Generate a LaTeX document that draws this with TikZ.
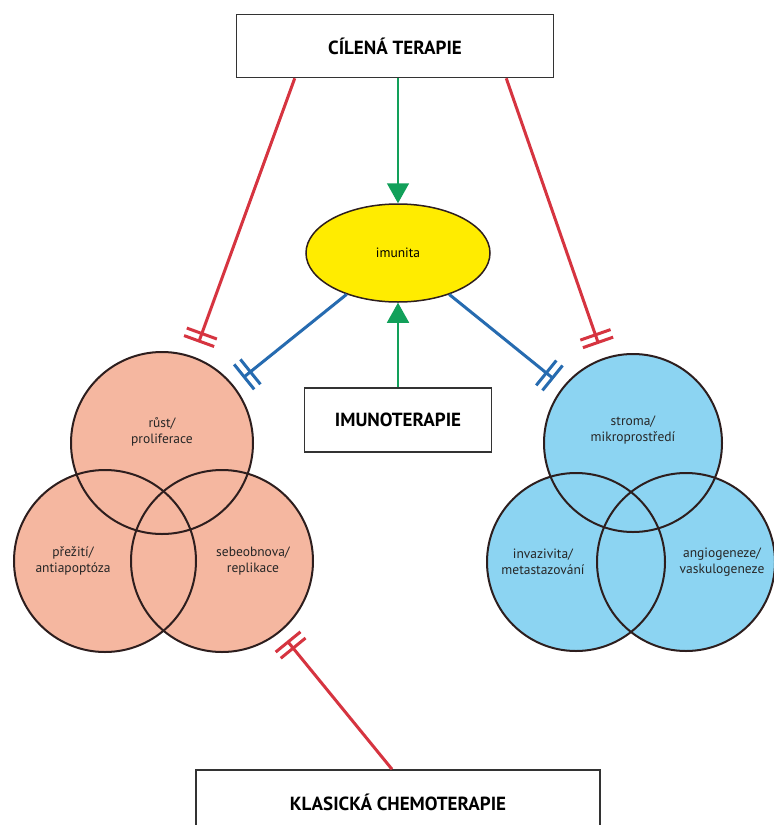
\documentclass[tikz,border=0pt]{standalone}
\usepackage{fontspec}
\setmainfont{PT Sans}
\usetikzlibrary{
        arrows.meta,
        shapes.geometric,
        positioning
    }
\definecolor{salmonfill}{RGB}{245,183,160}
\definecolor{skyfill}{RGB}{140,212,242}
\definecolor{inhred}{RGB}{214,52,64}
\definecolor{inhblue}{RGB}{38,107,176}
\definecolor{actgreen}{RGB}{18,160,90}
\definecolor{imuyellow}{RGB}{255,236,0}
\definecolor{rimdark}{RGB}{45,30,30}
\tikzset{therapy/.style={draw=black!80,line width=1.5pt,fill=white,align=center,
        font=\fontsize{19}{22}\selectfont\bfseries}}
\tikzset{leftvenn/.style={circle,inner sep=0pt,outer sep=0pt,minimum size=182pt,fill=salmonfill}}
\tikzset{rightvenn/.style={circle,inner sep=0pt,outer sep=0pt,minimum size=178pt,fill=skyfill}}
\tikzset{vennline/.style={draw=rimdark,line width=2pt}}
\tikzset{hallmark/.style={align=center,font=\fontsize{13.5}{16}\selectfont,text=black!85}}
\tikzset{inhibit/.style={line width=3pt,
        -{Bar[width=32pt,line width=3pt,sep=5pt]Bar[width=32pt,line width=3pt]}}}
\tikzset{activate/.style={line width=1.6pt,color=actgreen,
        -{Triangle[width=22pt,length=20pt]}}}

\begin{document}
\begin{tikzpicture}[x=1pt,y=-1pt]
            \clip (0,0) rectangle (774,825);
            \fill[white] (0,0) rectangle (774,825);
            % boxes
            \node[therapy,minimum width=317pt,minimum height=63pt] (cilena) at (395,46) {CÍLENÁ TERAPIE};
            \node[therapy,minimum width=187pt,minimum height=64pt] (imuno) at (398,420) {IMUNOTERAPIE};
            \node[therapy,minimum width=404pt,minimum height=64pt] (klasicka) at (398,802) {KLASICKÁ CHEMOTERAPIE};
            \node[ellipse,draw=rimdark,line width=1.5pt,fill=imuyellow,
                  minimum width=184pt,minimum height=98pt,
                  font=\fontsize{13.5}{16}\selectfont] (imunita) at (398,253) {imunita};
            % tumour cell hallmarks
            \node[leftvenn] (ltop) at (162,443) {};
            \node[leftvenn] (lbl)  at (105,561) {};
            \node[leftvenn] (lbr)  at (222,561) {};
            \node[rightvenn] (rtop) at (633,443) {};
            \node[rightvenn] (rbl)  at (576,562) {};
            \node[rightvenn] (rbr)  at (686,562) {};
            \foreach \c in {ltop,lbl,lbr} \draw[vennline] (\c.center) circle (91pt);
            \foreach \c in {rtop,rbl,rbr} \draw[vennline] (\c.center) circle (89pt);
            \node[hallmark,yshift=11pt] at (ltop) {růst/\\proliferace};
            \node[hallmark,xshift=-32pt] at (lbl) {přežití/\\antiapoptóza};
            \node[hallmark,xshift=31pt] at (lbr) {sebeobnova/\\replikace};
            \node[hallmark,yshift=13pt] at (rtop) {stroma/\\mikroprostředí};
            \node[hallmark,xshift=-33pt] at (rbl) {invazivita/\\metastazování};
            \node[hallmark,xshift=36pt] at (rbr) {angiogeneze/\\vaskulogeneze};
            % connectors
            \path[activate]
                (imunita |- cilena.south) edge (imunita)
                (imuno) edge (imunita)
            ;
            \path[inhibit,color=inhred,shorten >=16pt]
                ([xshift=59pt]cilena.south west) edge (ltop)
                ([xshift=-48pt]cilena.south east) edge (rtop)
            ;
            \path[inhibit,color=inhred,shorten >=12pt]
                ([xshift=-6pt]klasicka.north) edge (lbr)
            ;
            \path[inhibit,color=inhblue,shorten >=13pt]
                (imunita) edge (ltop)
                (imunita) edge (rtop)
            ;
        \end{tikzpicture}
\end{document}
